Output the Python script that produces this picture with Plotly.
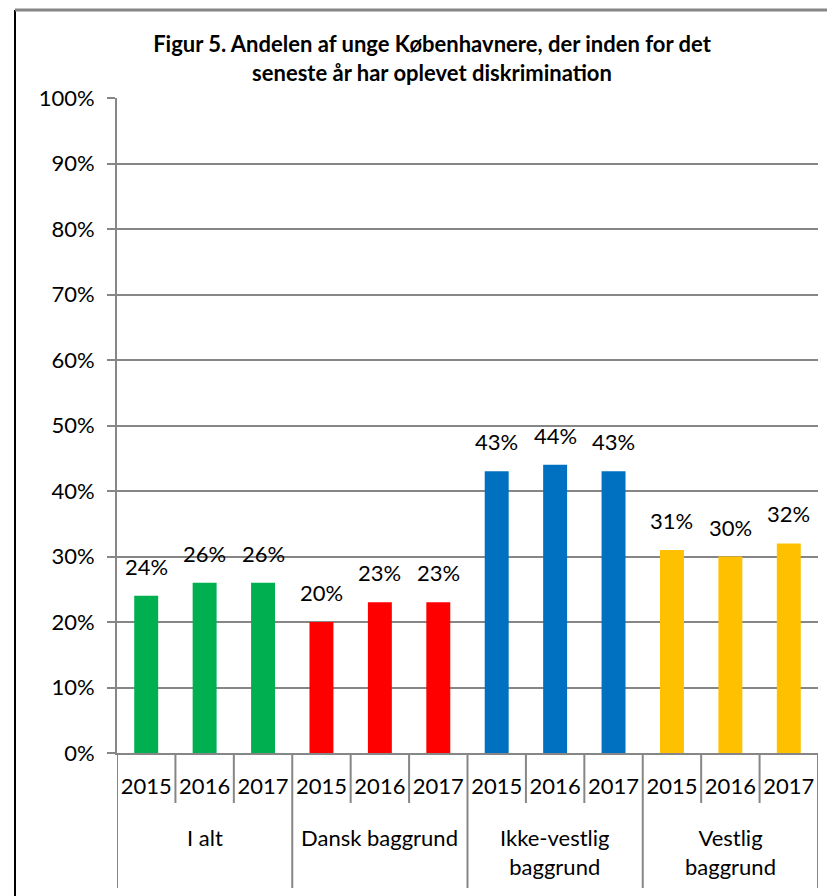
import plotly.graph_objects as go

title_lines = ["Figur 5. Andelen af unge Københavnere, der inden for det",
               "seneste år har oplevet diskrimination"]
groups = ["I alt", "Dansk baggrund", "Ikke-vestlig<br>baggrund", "Vestlig<br>baggrund"]
years = ["2015", "2016", "2017"]
values_i_alt = [24, 26, 26]
values_dansk = [20, 23, 23]
values_ikke_vestlig = [43, 44, 43]
values_vestlig = [31, 30, 32]
colors = ["#00B050", "#FF0000", "#0070C0", "#FFC000"]
y_ticks = list(range(0, 101, 10))

series = [values_i_alt, values_dansk, values_ikke_vestlig, values_vestlig]

FONT = "Lato"
GRAY = "#868686"
FS = 22

# layout geometry (figure px; page body adds an 8px offset)
L, R, T, B = 109, 25, 90, 151
W, H = 835, 896
PW, PH = W - L - R, H - T - B

n_years = len(years)
fig = go.Figure()
tickvals, ticktext = [], []
for gi, (g, vals, c) in enumerate(zip(groups, series, colors)):
    xs = [gi * n_years + j for j in range(n_years)]
    tickvals += xs
    ticktext += years
    fig.add_trace(go.Bar(
        x=xs, y=vals,
        marker=dict(color=c, line=dict(width=0)),
        width=0.41, showlegend=False, hoverinfo="y",
    ))
    for x, v in zip(xs, vals):
        fig.add_annotation(x=x, y=v, xref="x", yref="y", text=f"{v}%",
                           showarrow=False, yanchor="bottom", yshift=14,
                           font=dict(family=FONT, size=FS, color="#000000"))
    # group label
    fig.add_annotation(x=xs[1], y=-(69 / PH), xref="x", yref="paper",
                       text=g, showarrow=False, yanchor="top",
                       font=dict(family=FONT, size=FS, color="#000000"))

n_cat = len(groups) * n_years
# separators below the axis
for k in range(n_cat + 1):
    xb = k - 0.5
    is_group = (k % n_years == 0)
    depth = 135 if is_group else 50
    fig.add_shape(type="line", xref="x", yref="paper",
                  x0=xb, x1=xb, y0=0, y1=-depth / PH,
                  line=dict(color=GRAY, width=2))

fig.update_layout(
    width=W, height=H,
    margin=dict(l=L, r=R, t=T, b=B, autoexpand=False),
    paper_bgcolor="white", plot_bgcolor="white",
    font=dict(family=FONT, color="#000000"),
    title=dict(
        text="<b>" + "<br>".join(title_lines) + "</b>",
        x=424 / W, xanchor="center", xref="container",
        y=1 - 44 / H, yanchor="top", yref="container",
        font=dict(family=FONT, size=FS, color="#000000"),
    ),
)
fig.update_yaxes(
    range=[0, 100], tickvals=y_ticks, ticktext=[f"{v}%" for v in y_ticks],
    showgrid=True, gridcolor=GRAY, gridwidth=1.5,
    showline=True, linecolor=GRAY, linewidth=2,
    ticks="outside", ticklen=8, tickcolor=GRAY, tickwidth=2,
    ticklabelstandoff=8,
    tickfont=dict(family=FONT, size=FS, color="#000000"),
    zeroline=False, automargin=False,
)
fig.update_xaxes(
    range=[-0.5, n_cat - 0.5], tickvals=tickvals, ticktext=ticktext,
    tickangle=0, automargin=False,
    showline=True, linecolor=GRAY, linewidth=2,
    ticks="", ticklabelstandoff=13,
    tickfont=dict(family=FONT, size=FS, color="#000000"),
    showgrid=False, zeroline=False,
)
# outer frame fragments of the reference (left black edge, top gray edge)
fx = (7 - L) / PW
fy = 1 + (T - 2) / PH
fig.add_shape(type="line", xref="paper", yref="paper",
              x0=fx, x1=fx, y0=-B / PH, y1=fy,
              line=dict(color="#000000", width=2))
fig.add_shape(type="line", xref="paper", yref="paper",
              x0=fx, x1=1 + R / PW, y0=fy, y1=fy,
              line=dict(color=GRAY, width=3))

fig.write_html("out.html")
